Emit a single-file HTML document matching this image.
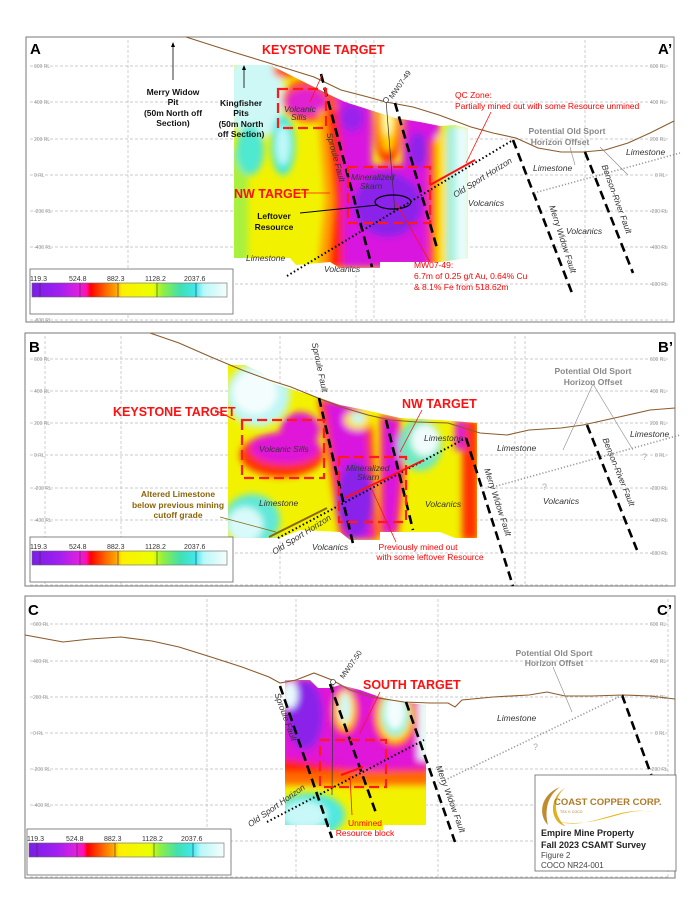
<!DOCTYPE html>
<html><head><meta charset="utf-8"><style>
html,body{margin:0;padding:0;background:#fff;}
svg{display:block;}
text{font-family:"Liberation Sans",sans-serif;}
.rl{font-size:5px;fill:#999;}
.lbl{font-size:8.5px;font-style:italic;fill:#333;}
.red{fill:#ff1010;font-weight:bold;}
.blk{font-size:8.5px;font-weight:bold;fill:#111;}
.grey{font-size:8.5px;fill:#888;font-weight:bold;}
.grid{stroke:#bbb;stroke-width:0.7;stroke-dasharray:3 2;}
.fault{stroke:#000;stroke-width:2.6;stroke-dasharray:9 5;fill:none;}
.osh{stroke:#000;stroke-width:2;stroke-dasharray:1.5 2.5;fill:none;}
.gosh{stroke:#999;stroke-width:1.6;stroke-dasharray:1.2 2;fill:none;}
.topo{stroke:#8b5a2b;stroke-width:1.1;fill:none;}
.rbox{stroke:#ff1a1a;stroke-width:2.2;stroke-dasharray:10 5;fill:none;}
</style></head><body>
<svg width="700" height="906" viewBox="0 0 700 906" xmlns="http://www.w3.org/2000/svg">
<defs>
<filter id="bl" x="-10%" y="-10%" width="120%" height="120%"><feGaussianBlur stdDeviation="3.5"/></filter>
<linearGradient id="cb" x1="0" x2="1">
<stop offset="0" stop-color="#7a1ee8"/><stop offset="0.14" stop-color="#a020f0"/><stop offset="0.24" stop-color="#e020e0"/><stop offset="0.28" stop-color="#ff10b0"/><stop offset="0.3" stop-color="#ff0000"/><stop offset="0.38" stop-color="#ff6a00"/><stop offset="0.44" stop-color="#ffb000"/><stop offset="0.46" stop-color="#ffee00"/><stop offset="0.62" stop-color="#eaff00"/><stop offset="0.67" stop-color="#90f040"/><stop offset="0.76" stop-color="#40e0b0"/><stop offset="0.84" stop-color="#40e8f0"/><stop offset="0.88" stop-color="#b8f8f8"/><stop offset="1" stop-color="#f6fdfd"/>
</linearGradient>
<clipPath id="ca"><polygon points="234,65 270,65 290,75 310,85 330,95 345,102 370,110 395,118 420,122 440,126 455,125 468,128 468,258 440,262 380,262 380,268 340,268 330,262 296,265 290,258 234,258"/></clipPath>
<clipPath id="cbp"><polygon points="228,365 245,365 260,372 275,384 300,392 320,398 340,405 365,410 400,418 440,420 477,423 477,538 455,538 440,532 380,532 380,540 350,540 340,532 300,530 280,538 228,538"/></clipPath>
<clipPath id="cc"><polygon points="285,680 310,680 318,688 330,688 340,685 360,690 380,697 400,702 426,705 426,825 383,825 383,830 330,830 330,825 285,825"/></clipPath>
</defs>

<!-- ================= PANEL A ================= -->
<rect x="26" y="37" width="648" height="285" fill="#fff" stroke="#777" stroke-width="1"/>
<g class="grid">
<line x1="30" y1="66" x2="670" y2="66"/><line x1="30" y1="102" x2="670" y2="102"/><line x1="30" y1="139" x2="670" y2="139"/><line x1="30" y1="175" x2="670" y2="175"/><line x1="30" y1="211" x2="670" y2="211"/><line x1="30" y1="247" x2="670" y2="247"/><line x1="30" y1="284" x2="670" y2="284"/><line x1="30" y1="320" x2="670" y2="320"/>
<line x1="128" y1="40" x2="128" y2="320"/><line x1="356" y1="40" x2="356" y2="320"/><line x1="374" y1="40" x2="374" y2="320"/><line x1="585" y1="40" x2="585" y2="320"/>
</g>
<g class="rl">
<text x="34" y="68">600 RL</text><text x="34" y="104">400 RL</text><text x="34" y="141">200 RL</text><text x="34" y="177">0 RL</text><text x="34" y="213">-200 RL</text><text x="34" y="249">-400 RL</text><text x="34" y="322">-800 RL</text>
<text x="650" y="68">600 RL</text><text x="650" y="104">400 RL</text><text x="650" y="141">200 RL</text><text x="655" y="177">0 RL</text><text x="650" y="213">-200 RL</text><text x="650" y="249">-400 RL</text><text x="650" y="286">-600 RL</text>
</g>
<!-- heatmap A -->
<g clip-path="url(#ca)">
<rect x="230" y="60" width="242" height="212" fill="#f2f200"/>
<g filter="url(#bl)">
<rect x="230" y="150" width="18" height="120" fill="#a8f040"/>
<ellipse cx="255" cy="95" rx="30" ry="45" fill="#cdf8f6"/>
<ellipse cx="250" cy="150" rx="14" ry="25" fill="#50e8d0"/>
<ellipse cx="283" cy="145" rx="12" ry="30" fill="#40e8e0"/>
<ellipse cx="283" cy="145" rx="7" ry="20" fill="#c0f8f8"/>
<ellipse cx="285" cy="70" rx="12" ry="8" fill="#ff5000"/>
<ellipse cx="310" cy="100" rx="28" ry="22" fill="#ff5000"/>
<ellipse cx="306" cy="102" rx="20" ry="14" fill="#e020d0"/>
<polygon points="318,110 340,110 345,200 340,268 318,268 325,200" fill="#ffa000"/>
<polygon points="326,110 345,110 350,200 348,268 328,268 334,200" fill="#ff2000"/>
<polygon points="335,85 372,100 372,165 402,165 405,110 440,120 438,200 428,268 343,268 342,150" fill="#d818e0"/>
<ellipse cx="388" cy="205" rx="34" ry="32" fill="#8a22ea"/>
<ellipse cx="352" cy="118" rx="12" ry="14" fill="#9a20ea"/>
<ellipse cx="418" cy="150" rx="10" ry="18" fill="#9020ea"/>
<ellipse cx="388" cy="128" rx="14" ry="36" fill="#ff3000"/>
<ellipse cx="388" cy="122" rx="9" ry="30" fill="#ffd000"/>
<ellipse cx="388" cy="115" rx="5" ry="20" fill="#ffffb0"/>
<rect x="428" y="140" width="8" height="130" fill="#ff4000"/>
<rect x="436" y="135" width="10" height="135" fill="#ffe000"/>
<rect x="446" y="125" width="25" height="140" fill="#a0f0e0"/>
<rect x="456" y="125" width="14" height="140" fill="#e8fcfc"/>
</g>
</g>
<polyline class="topo" points="186,37 233,52 269,63 314,77 341,90 368,97 386,102 413,107 439,115 471,127 493,133 516,138 538,148 561,152 583,152 605,150 628,143 650,133 674,121"/>
<line x1="386" y1="100" x2="395" y2="213" stroke="#333" stroke-width="0.7"/>
<circle cx="386" cy="100" r="2.5" fill="#fff" stroke="#333" stroke-width="0.7"/>
<line class="fault" x1="321" y1="74" x2="372" y2="267"/>
<line class="fault" x1="395" y1="103" x2="437" y2="248"/>
<line class="fault" x1="513" y1="140" x2="572" y2="293"/>
<line class="fault" x1="585" y1="152" x2="633" y2="273"/>
<line class="osh" x1="287" y1="276" x2="513" y2="140"/>
<line class="gosh" x1="534" y1="193" x2="680" y2="153"/>
<rect class="rbox" x="278" y="89" width="48" height="39"/>
<rect class="rbox" x="348" y="167" width="82" height="56"/>
<ellipse cx="393" cy="202" rx="18" ry="7" fill="none" stroke="#000" stroke-width="1.2"/>
<line x1="430" y1="185" x2="475" y2="160" stroke="#ff1010" stroke-width="2"/>
<line x1="491" y1="112" x2="466" y2="163" stroke="#ff1010" stroke-width="0.8"/>
<line x1="396" y1="203" x2="430" y2="262" stroke="#ff1010" stroke-width="0.8"/>
<line x1="300" y1="213" x2="378" y2="205" stroke="#000" stroke-width="0.9"/>
<line x1="322" y1="75" x2="310" y2="102" stroke="#ff1010" stroke-width="0.8"/>
<line x1="300" y1="193" x2="330" y2="193" stroke="#ff1010" stroke-width="0.8"/>
<line x1="173" y1="44" x2="173" y2="80" stroke="#000" stroke-width="0.8"/><polygon points="173,42 171,47 175,47"/>
<line x1="244" y1="67" x2="244" y2="88" stroke="#000" stroke-width="0.8"/><polygon points="244,65 242,70 246,70"/>
<text x="30" y="54" style="font-size:15px;font-weight:bold">A</text>
<text x="658" y="54" style="font-size:15px;font-weight:bold">A’</text>
<text x="262" y="54" class="red" style="font-size:12.5px">KEYSTONE TARGET</text>
<text x="234" y="198" class="red" style="font-size:12.5px">NW TARGET</text>
<g class="blk" text-anchor="middle"><text x="173" y="95">Merry Widow</text><text x="173" y="105">Pit</text><text x="173" y="116">(50m North off</text><text x="173" y="126">Section)</text>
<text x="241" y="106">Kingfisher</text><text x="241" y="116">Pits</text><text x="241" y="127">(50m North</text><text x="241" y="137">off Section)</text>
<text x="274" y="219">Leftover</text><text x="274" y="230">Resource</text></g>
<text x="455" y="98" class="red" style="font-size:8.5px;font-weight:normal;fill:#f00">QC Zone:</text>
<text x="455" y="109" style="font-size:8.5px;fill:#f00">Partially mined out with some Resource unmined</text>
<g class="grey" text-anchor="middle"><text x="567" y="134">Potential Old Sport</text><text x="560" y="145">Horizon Offset</text></g>
<line x1="570" y1="147" x2="575" y2="165" stroke="#888" stroke-width="0.6"/><line x1="600" y1="147" x2="628" y2="175" stroke="#888" stroke-width="0.6"/>
<g class="lbl"><text x="626" y="155">Limestone</text><text x="533" y="171">Limestone</text><text x="246" y="261">Limestone</text><text x="468" y="206">Volcanics</text><text x="566" y="234">Volcanics</text><text x="324" y="272">Volcanics</text>
<text x="351" y="180">Mineralized</text><text x="360" y="189">Skarn</text><text x="284" y="112">Volcanic</text><text x="291" y="120">Sills</text></g>
<text x="352" y="154" class="lbl" transform="rotate(75 330 155)" text-anchor="middle" x2="0"></text>
<text transform="translate(333,158) rotate(75)" class="lbl" text-anchor="middle">Sproule Fault</text>
<text transform="translate(484,180) rotate(-32)" class="lbl" text-anchor="middle">Old Sport Horizon</text>
<text transform="translate(560,240) rotate(72)" class="lbl" text-anchor="middle">Merry Widow Fault</text>
<text transform="translate(614,200) rotate(70)" class="lbl" text-anchor="middle">Benson-River Fault</text>
<text transform="translate(402,86) rotate(-55)" style="font-size:7.5px;fill:#333" text-anchor="middle">MW07-49</text>
<g style="font-size:8.5px;fill:#f00"><text x="414" y="268">MW07-49:</text><text x="414" y="279">6.7m of 0.25 g/t Au, 0.64% Cu</text><text x="414" y="290">&amp; 8.1% Fe from 518.62m</text></g>
<!-- legend A -->
<rect x="30" y="269" width="203" height="45" fill="#fff" stroke="#666" stroke-width="0.8"/>
<rect x="32" y="283" width="195" height="14" fill="url(#cb)" stroke="#666" stroke-width="0.6"/>
<g stroke="#333" stroke-width="0.6"><line x1="40" y1="283" x2="40" y2="297"/><line x1="80" y1="283" x2="80" y2="297"/><line x1="118" y1="283" x2="118" y2="297"/><line x1="157" y1="283" x2="157" y2="297"/><line x1="196" y1="283" x2="196" y2="297"/></g>
<g style="font-size:7px;fill:#333"><text x="30" y="281">119.3</text><text x="69" y="281">524.8</text><text x="107" y="281">882.3</text><text x="145" y="281">1128.2</text><text x="184" y="281">2037.6</text></g>

<!-- ================= PANEL B ================= -->
<rect x="25" y="333" width="650" height="253" fill="#fff" stroke="#777" stroke-width="1"/>
<g class="grid">
<line x1="30" y1="359" x2="670" y2="359"/><line x1="30" y1="391" x2="670" y2="391"/><line x1="30" y1="423" x2="670" y2="423"/><line x1="30" y1="455" x2="670" y2="455"/><line x1="30" y1="488" x2="670" y2="488"/><line x1="30" y1="520" x2="670" y2="520"/><line x1="30" y1="553" x2="670" y2="553"/><line x1="30" y1="585" x2="670" y2="585"/>
<line x1="45" y1="336" x2="45" y2="585"/><line x1="121" y1="336" x2="121" y2="585"/><line x1="280" y1="336" x2="280" y2="585"/><line x1="515" y1="336" x2="515" y2="585"/><line x1="525" y1="336" x2="525" y2="585"/>
</g>
<g class="rl">
<text x="34" y="361">600 RL</text><text x="34" y="393">400 RL</text><text x="34" y="425">200 RL</text><text x="34" y="457">0 RL</text><text x="34" y="490">-200 RL</text><text x="34" y="522">-400 RL</text>
<text x="650" y="361">600 RL</text><text x="650" y="393">400 RL</text><text x="650" y="425">200 RL</text><text x="655" y="457">0 RL</text><text x="650" y="490">-200 RL</text><text x="650" y="522">-400 RL</text><text x="650" y="555">-600 RL</text>
</g>
<g clip-path="url(#cbp)">
<rect x="225" y="360" width="255" height="185" fill="#f2f200"/>
<g filter="url(#bl)">
<ellipse cx="258" cy="395" rx="32" ry="32" fill="#bff6f4"/>
<ellipse cx="255" cy="392" rx="22" ry="22" fill="#f4fdfd"/>
<ellipse cx="252" cy="520" rx="28" ry="26" fill="#60e8d8"/>
<ellipse cx="245" cy="525" rx="18" ry="18" fill="#d8fafa"/>
<ellipse cx="282" cy="455" rx="42" ry="22" fill="#ff3000"/>
<ellipse cx="285" cy="448" rx="35" ry="16" fill="#e018d8"/>
<ellipse cx="300" cy="430" rx="20" ry="18" fill="#e018d8"/>
<polygon points="318,398 360,405 372,420 378,540 340,540 330,470" fill="#ff3000"/>
<polygon points="325,400 358,408 366,430 372,540 345,540 336,470" fill="#d818e0"/>
<ellipse cx="355" cy="500" rx="18" ry="38" fill="#8a22ea"/>
<ellipse cx="358" cy="420" rx="14" ry="10" fill="#ffe000"/>
<ellipse cx="358" cy="418" rx="7" ry="6" fill="#c0f8f8"/>
<polygon points="380,415 400,418 405,470 398,535 380,535" fill="#ff2a00"/>
<polygon points="383,418 397,420 400,470 394,535 384,535" fill="#d818e0"/>
<ellipse cx="420" cy="445" rx="22" ry="26" fill="#70e8c0"/>
<ellipse cx="425" cy="440" rx="14" ry="16" fill="#f0fcfc"/>
<rect x="462" y="420" width="16" height="120" fill="#ff3000"/>
<rect x="455" y="420" width="10" height="30" fill="#e018d8"/>
</g>
</g>
<polyline class="topo" points="150,333 179,343 211,357 242,370 269,380 291,387 318,398 341,407 368,415 390,420 417,422 448,423 480,433 507,435 529,430 561,428 583,425 619,417 650,410 675,408"/>
<line class="fault" x1="319" y1="398" x2="354" y2="548"/>
<line class="fault" x1="386" y1="420" x2="413" y2="530"/>
<line class="fault" x1="466" y1="438" x2="513" y2="586"/>
<line class="fault" x1="587" y1="425" x2="637" y2="550"/>
<line class="osh" x1="278" y1="538" x2="466" y2="438"/>
<line class="gosh" x1="493" y1="487" x2="680" y2="435"/>
<rect class="rbox" x="242" y="420" width="82" height="58"/>
<rect class="rbox" x="339" y="457" width="67" height="65"/>
<line x1="345" y1="498" x2="424" y2="460" stroke="#ff1010" stroke-width="2"/>
<line x1="269" y1="537" x2="327" y2="508" stroke="#8b6508" stroke-width="2"/>
<line x1="220" y1="517" x2="276" y2="532" stroke="#8b6508" stroke-width="0.8"/>
<line x1="215" y1="410" x2="235" y2="420" stroke="#ff1010" stroke-width="0.8"/>
<line x1="422" y1="410" x2="400" y2="452" stroke="#ff1010" stroke-width="0.8"/>
<line x1="372" y1="490" x2="396" y2="542" stroke="#ff1010" stroke-width="0.8"/>
<line x1="593" y1="384" x2="563" y2="450" stroke="#888" stroke-width="0.6"/><line x1="593" y1="384" x2="633" y2="450" stroke="#888" stroke-width="0.6"/>
<text x="29" y="352" style="font-size:15px;font-weight:bold">B</text>
<text x="658" y="352" style="font-size:15px;font-weight:bold">B’</text>
<text x="113" y="416" class="red" style="font-size:12.5px">KEYSTONE TARGET</text>
<text x="402" y="408" class="red" style="font-size:12.5px">NW TARGET</text>
<g class="grey" text-anchor="middle"><text x="593" y="374">Potential Old Sport</text><text x="593" y="385">Horizon Offset</text></g>
<g class="lbl"><text x="630" y="437">Limestone</text><text x="497" y="451">Limestone</text><text x="424" y="441">Limestone</text><text x="259" y="506">Limestone</text><text x="259" y="452">Volcanic Sills</text>
<text x="346" y="471">Mineralized</text><text x="357" y="480">Skarn</text><text x="425" y="507">Volcanics</text><text x="543" y="504">Volcanics</text><text x="312" y="550">Volcanics</text></g>
<g text-anchor="middle" style="font-size:8.5px;fill:#8b6508;font-weight:bold"><text x="178" y="497">Altered Limestone</text><text x="178" y="508">below previous mining</text><text x="178" y="518">cutoff grade</text></g>
<g text-anchor="middle" style="font-size:8.5px;fill:#f00"><text x="418" y="550">Previously  mined out</text><text x="430" y="560">with some leftover Resource</text></g>
<text transform="translate(317,368) rotate(78)" class="lbl" text-anchor="middle">Sproule Fault</text>
<text transform="translate(495,503) rotate(72)" class="lbl" text-anchor="middle">Merry Widow Fault</text>
<text transform="translate(616,473) rotate(68)" class="lbl" text-anchor="middle">Benson-River Fault</text>
<text transform="translate(303,537) rotate(-32)" class="lbl" text-anchor="middle">Old Sport Horizon</text>
<text x="542" y="490" style="font-size:9px;fill:#aaa">?</text><text x="642" y="460" style="font-size:9px;fill:#aaa">?</text>
<rect x="30" y="537" width="203" height="45" fill="#fff" stroke="#666" stroke-width="0.8"/>
<rect x="32" y="551" width="195" height="14" fill="url(#cb)" stroke="#666" stroke-width="0.6"/>
<g stroke="#333" stroke-width="0.6"><line x1="40" y1="551" x2="40" y2="565"/><line x1="80" y1="551" x2="80" y2="565"/><line x1="118" y1="551" x2="118" y2="565"/><line x1="157" y1="551" x2="157" y2="565"/><line x1="196" y1="551" x2="196" y2="565"/></g>
<g style="font-size:7px;fill:#333"><text x="30" y="549">119.3</text><text x="69" y="549">524.8</text><text x="107" y="549">882.3</text><text x="145" y="549">1128.2</text><text x="184" y="549">2037.6</text></g>

<!-- ================= PANEL C ================= -->
<rect x="25" y="596" width="650" height="282" fill="#fff" stroke="#777" stroke-width="1"/>
<g class="grid">
<line x1="30" y1="624" x2="670" y2="624"/><line x1="30" y1="661" x2="670" y2="661"/><line x1="30" y1="697" x2="670" y2="697"/><line x1="30" y1="733" x2="670" y2="733"/><line x1="30" y1="769" x2="670" y2="769"/><line x1="30" y1="805" x2="670" y2="805"/><line x1="30" y1="841" x2="670" y2="841"/><line x1="30" y1="877" x2="670" y2="877"/>
<line x1="207" y1="599" x2="207" y2="877"/><line x1="296" y1="599" x2="296" y2="877"/><line x1="438" y1="599" x2="438" y2="877"/><line x1="668" y1="599" x2="668" y2="877"/>
</g>
<g class="rl">
<text x="33" y="626">600 RL</text><text x="33" y="663">400 RL</text><text x="33" y="699">200 RL</text><text x="33" y="735">0 RL</text><text x="33" y="771">-200 RL</text><text x="33" y="807">-400 RL</text>
<text x="650" y="626">600 RL</text><text x="650" y="663">400 RL</text><text x="650" y="699">200 RL</text><text x="655" y="735">0 RL</text><text x="650" y="771">-200 RL</text>
</g>
<g clip-path="url(#cc)">
<rect x="280" y="675" width="150" height="160" fill="#f2f200"/>
<g filter="url(#bl)">
<rect x="280" y="765" width="150" height="20" fill="#ff6a00"/>
<ellipse cx="310" cy="815" rx="35" ry="22" fill="#50e8e0"/>
<ellipse cx="305" cy="815" rx="22" ry="14" fill="#c8f8f8"/>
<rect x="280" y="750" width="150" height="22" fill="#ff2000"/>
<polygon points="280,675 430,690 430,768 360,770 280,758" fill="#e018d8"/>
<ellipse cx="305" cy="715" rx="18" ry="35" fill="#8a22ea"/>
<ellipse cx="345" cy="712" rx="14" ry="24" fill="#ff3000"/>
<ellipse cx="345" cy="710" rx="10" ry="20" fill="#ffe000"/>
<ellipse cx="345" cy="708" rx="6" ry="16" fill="#d0f8f8"/>
<ellipse cx="395" cy="718" rx="22" ry="30" fill="#ff3000"/>
<ellipse cx="395" cy="716" rx="18" ry="26" fill="#ffe000"/>
<ellipse cx="395" cy="714" rx="14" ry="22" fill="#70f0e0"/>
<ellipse cx="395" cy="712" rx="10" ry="18" fill="#f4fdfd"/>
<rect x="418" y="700" width="12" height="60" fill="#e8fcfc"/>
<ellipse cx="290" cy="695" rx="8" ry="14" fill="#e8fcfc"/>
</g>
</g>
<polyline class="topo" points="25,635 63,642 90,639 121,637 152,641 179,647 211,657 242,667 269,677 280,683 296,680 314,673 332,680 350,690 372,697 404,702 430,703 448,703 455,707 462,700 493,697 529,695 547,692 565,696 592,696 623,695 650,696 675,699"/>
<line x1="333" y1="682" x2="332" y2="795" stroke="#333" stroke-width="0.7"/>
<circle cx="333" cy="682" r="2.5" fill="#fff" stroke="#333" stroke-width="0.7"/>
<line class="fault" x1="280" y1="686" x2="332" y2="838"/>
<line class="fault" x1="330" y1="684" x2="376" y2="813"/>
<line class="fault" x1="406" y1="702" x2="455" y2="842"/>
<line class="fault" x1="622" y1="695" x2="652" y2="777"/>
<line class="osh" x1="267" y1="822" x2="424" y2="740"/>
<line class="gosh" x1="439" y1="783" x2="623" y2="695"/>
<rect class="rbox" x="320" y="740" width="66" height="47"/>
<line x1="341" y1="775" x2="363" y2="767" stroke="#ff1010" stroke-width="2"/>
<line x1="380" y1="692" x2="360" y2="733" stroke="#ff1010" stroke-width="0.8"/>
<line x1="350" y1="776" x2="352" y2="815" stroke="#ff1010" stroke-width="0.8"/>
<line x1="553" y1="667" x2="572" y2="712" stroke="#888" stroke-width="0.6"/>
<text x="28" y="615" style="font-size:15px;font-weight:bold">C</text>
<text x="657" y="615" style="font-size:15px;font-weight:bold">C’</text>
<text x="363" y="689" class="red" style="font-size:12.5px">SOUTH TARGET</text>
<g class="grey" text-anchor="middle"><text x="554" y="656">Potential Old Sport</text><text x="554" y="666">Horizon Offset</text></g>
<text x="497" y="721" class="lbl">Limestone</text>
<text x="533" y="750" style="font-size:9px;fill:#aaa">?</text>
<g text-anchor="middle" style="font-size:8.5px;fill:#f00"><text x="365" y="826">Unmined</text><text x="365" y="836">Resource block</text></g>
<text transform="translate(283,718) rotate(70)" class="lbl" text-anchor="middle">Sproule Fault</text>
<text transform="translate(448,800) rotate(70)" class="lbl" text-anchor="middle">Merry Widow Fault</text>
<text transform="translate(278,808) rotate(-35)" class="lbl" text-anchor="middle">Old Sport Horizon</text>
<text transform="translate(353,666) rotate(-55)" style="font-size:7.5px;fill:#333" text-anchor="middle">MW07-50</text>
<rect x="27" y="829" width="204" height="46" fill="#fff" stroke="#666" stroke-width="0.8"/>
<rect x="29" y="843" width="195" height="14" fill="url(#cb)" stroke="#666" stroke-width="0.6"/>
<g stroke="#333" stroke-width="0.6"><line x1="37" y1="843" x2="37" y2="857"/><line x1="77" y1="843" x2="77" y2="857"/><line x1="115" y1="843" x2="115" y2="857"/><line x1="154" y1="843" x2="154" y2="857"/><line x1="193" y1="843" x2="193" y2="857"/></g>
<g style="font-size:7px;fill:#333"><text x="27" y="841">119.3</text><text x="66" y="841">524.8</text><text x="104" y="841">882.3</text><text x="142" y="841">1128.2</text><text x="181" y="841">2037.6</text></g>
<!-- logo box -->
<rect x="535" y="775" width="141" height="96" fill="#fff" stroke="#666" stroke-width="0.8"/>
<path d="M560,787 C540,795 538,815 548,825 C544,810 548,795 560,787 Z" fill="#c08a30"/>
<path d="M565,788 C548,798 550,822 565,826 C553,815 553,798 565,788 Z" fill="#e0b020"/>
<path d="M560,822 C590,830 620,805 652,812 C625,806 600,828 560,822 Z" fill="#e8b820"/>
<text x="554" y="805" style="font-size:9.5px;font-weight:bold;fill:#b07a2a">COAST COPPER CORP.</text>
<text x="560" y="813" style="font-size:3.5px;fill:#b07a2a">TSX V: COCO</text>
<g style="font-size:9px;font-weight:bold;fill:#222"><text x="541" y="836">Empire Mine Property</text><text x="541" y="848">Fall 2023 CSAMT Survey</text></g>
<g style="font-size:8px;fill:#444"><text x="541" y="858">Figure 2</text><text x="541" y="868">COCO NR24-001</text></g>
</svg>
</body></html>
